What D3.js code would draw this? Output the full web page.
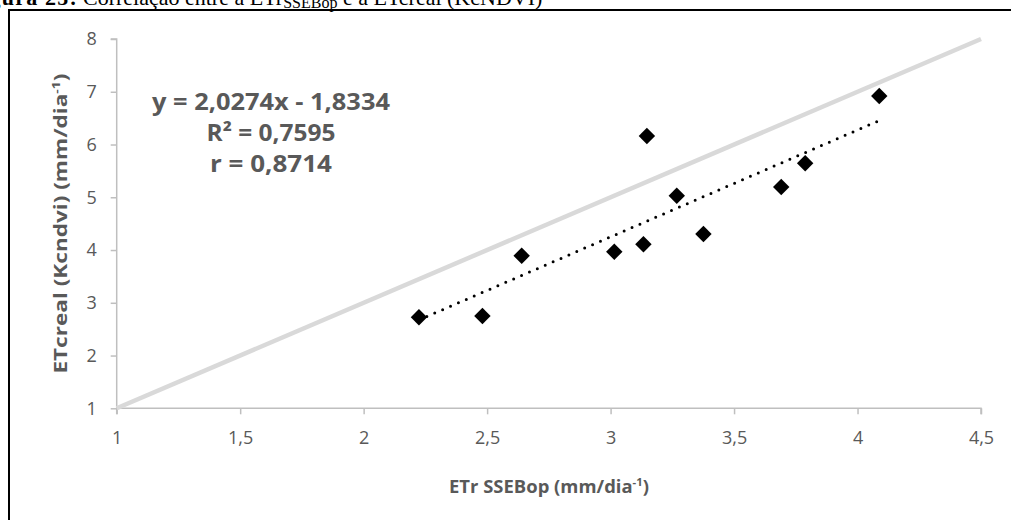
<!DOCTYPE html>
<html>
<head>
<meta charset="utf-8">
<script src="https://cdn.jsdelivr.net/npm/d3@7"></script>
<style>
  html, body { margin: 0; padding: 0; background: #fff; }
  svg { display: block; }
</style>
</head>
<body>
<svg id="chart" width="1011" height="520"></svg>
<script>
// ---- data ----
const etrSSEBop = [2.224, 2.481, 2.640, 3.015, 3.133, 3.147, 3.268, 3.376, 3.691, 3.788, 4.088];
const etcReal   = [2.725, 2.749, 3.892, 3.968, 4.108, 6.161, 5.030, 4.304, 5.194, 5.644, 6.919];
const refLineX = [1, 4.5];
const refLineY = [1, 8];
const trendSlope = 2.0274;
const trendIntercept = -1.8334;
const xTicks = [1, 1.5, 2, 2.5, 3, 3.5, 4, 4.5];
const yTicks = [1, 2, 3, 4, 5, 6, 7, 8];
const equationLines = ["y = 2,0274x - 1,8334", "R² = 0,7595", "r = 0,8714"];

const svg = d3.select("#chart");
const FONT = "'Open Sans', 'DejaVu Sans', sans-serif";
const GREY = "#595959";

// frame
svg.append("rect").attr("x", 9).attr("y", 10).attr("width", 1100).attr("height", 600)
  .attr("fill", "none").attr("stroke", "#000").attr("stroke-width", 2);

// caption (cut off at the top)
svg.append("text").attr("x", 78).attr("y", 5).attr("text-anchor", "end")
  .attr("font-family", "'Liberation Serif', serif").attr("font-size", 22).attr("font-weight", "bold")
  .attr("letter-spacing", 1.2)
  .text("Figura 25:");
const cap = svg.append("text").attr("x", 83).attr("y", 5)
  .attr("font-family", "'Liberation Serif', serif").attr("font-size", 22);
cap.append("tspan").text("Correlação entre a ETr");
cap.append("tspan").attr("font-size", 16).attr("dy", 2.5).text("SSEBop");
cap.append("tspan").attr("dy", -2.5).text(" e a ETcreal (KcNDVI)");

const x = d3.scaleLinear().domain([1, 4.5]).range([116.7, 981]);
const y = d3.scaleLinear().domain([1, 8]).range([408.3, 39]);

// axes
const xAxis = d3.axisBottom(x).tickValues(xTicks).tickSize(6).tickPadding(17)
  .tickFormat(d => String(d).replace(".", ","));
const yAxis = d3.axisLeft(y).tickValues(yTicks).tickSize(6).tickPadding(14)
  .tickFormat(d => String(d));

const gx = svg.append("g").attr("transform", `translate(0,${y(1)})`).call(xAxis);
const gy = svg.append("g").attr("transform", `translate(${x(1)},0)`).call(yAxis);
[gx, gy].forEach(g => {
  g.select(".domain").attr("stroke", "#bfbfbf").attr("stroke-width", 1.5);
  g.selectAll(".tick line").attr("stroke", "#bfbfbf").attr("stroke-width", 1.5);
  g.selectAll(".tick text").attr("fill", GREY).attr("font-size", 18).attr("font-family", FONT);
});
gy.select(".domain").attr("d", `M-6,${y(8)}H0V${y(1)}`);
gx.select(".domain").attr("d", `M${x(1)},6V0H${x(4.5)}V6`);

// reference line
svg.append("path")
  .datum(refLineX.map((v, i) => [v, refLineY[i]]))
  .attr("fill", "none").attr("stroke", "#d9d9d9").attr("stroke-width", 4.5)
  .attr("d", d3.line().x(d => x(d[0])).y(d => y(d[1])));

// trend line
const xmin = d3.min(etrSSEBop), xmax = d3.max(etrSSEBop);
svg.append("path")
  .datum([xmin, xmax])
  .attr("fill", "none").attr("stroke", "#000").attr("stroke-width", 3)
  .attr("stroke-linecap", "round").attr("stroke-dasharray", "0 8.6")
  .attr("d", d3.line().x(d => x(d)).y(d => y(trendSlope * d + trendIntercept)));

// points
const sym = d3.symbol().type(d3.symbolSquare).size(135);
svg.append("g").selectAll("path").data(etrSSEBop).join("path")
  .attr("d", sym)
  .attr("transform", (d, i) => `translate(${x(d)},${y(etcReal[i])}) rotate(45)`)
  .attr("fill", "#000");

// fit helper: scale text horizontally to target width
function fit(sel, target) {
  const w = sel.node().getBBox().width;
  const k = target / w;
  const ax = +sel.attr("x"), ay = +sel.attr("y");
  sel.attr("transform", `translate(${ax},${ay}) scale(${k},1) translate(${-ax},${-ay})`);
}

// equation block
const eqBaselines = [110, 141.5, 172.5];
const eqWidths = [238, 129, 122];
equationLines.forEach((t, i) => {
  const tx = svg.append("text").attr("x", 271).attr("y", eqBaselines[i])
    .attr("text-anchor", "middle").attr("font-family", FONT).attr("font-weight", "bold")
    .attr("font-size", 23).attr("fill", GREY).text(t);
  fit(tx, eqWidths[i]);
});

// axis titles
const xt = svg.append("text").attr("x", 549).attr("y", 493).attr("text-anchor", "middle")
  .attr("font-family", FONT).attr("font-weight", "bold").attr("font-size", 18).attr("fill", GREY);
xt.append("tspan").text("ETr SSEBop (mm/dia");
xt.append("tspan").attr("font-size", 11).attr("dy", -7).text("-1");
xt.append("tspan").attr("dy", 7).text(")");
fit(xt, 200);

const ytG = svg.append("g").attr("transform", `translate(67,${(y(1) + y(8)) / 2}) rotate(-90)`);
const yt = ytG.append("text").attr("x", 0).attr("y", 0).attr("text-anchor", "middle")
  .attr("font-family", FONT).attr("font-weight", "bold").attr("font-size", 18).attr("fill", GREY);
yt.append("tspan").text("ETcreal (Kcndvi) (mm/dia");
yt.append("tspan").attr("font-size", 11).attr("dy", -7).text("-1");
yt.append("tspan").attr("dy", 7).text(")");
fit(yt, 300);
</script>
</body>
</html>
